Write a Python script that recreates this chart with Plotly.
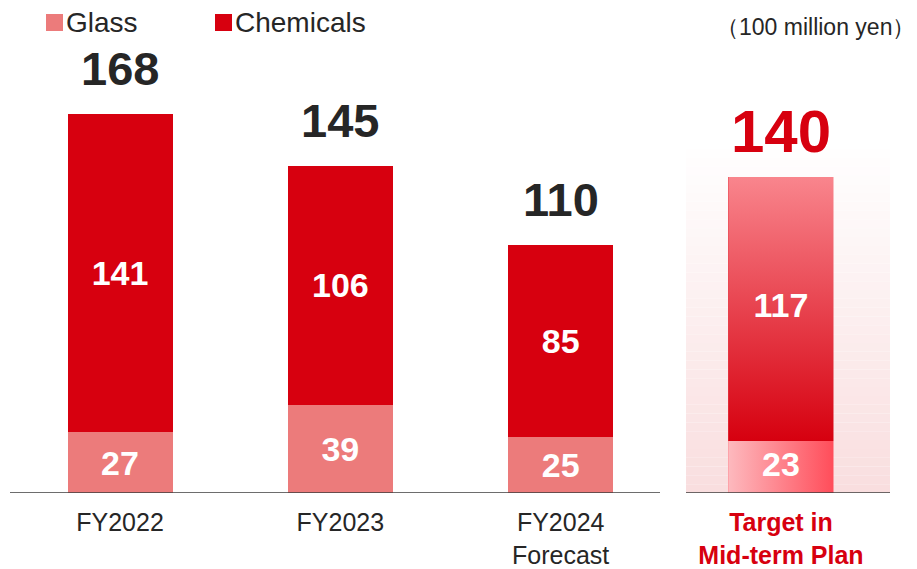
import plotly.graph_objects as go

# ---- data ----
categories = ["FY2022", "FY2023", "FY2024<br>Forecast", "Target in<br>Mid-term Plan"]
glass = [27, 39, 25, 23]
chemicals = [141, 106, 85, 117]
totals = [168, 145, 110, 140]
series_names = ["Glass", "Chemicals"]
unit_label = "（100 million yen）"

# ---- styles ----
FONT = "Liberation Sans, Arial, sans-serif"
GLASS_C = "#ec7b7b"
CHEM_C = "#d7000f"
DARK = "#262626"
OFF = 8                      # page body margin
SW, SH = 917, 569            # screen size
W, H = SW - OFF, SH - OFF    # figure size
X_PER_CAT = 220.33           # px per category step
X0_PX = 120                  # screen px of first category centre
BASE_PY = 493                # screen px of baseline
PLOT_H = BASE_PY - OFF
Y_PER_UNIT = 2.258
BAR_W = 105 / X_PER_CAT

def px_to_x(px):
    return (px - X0_PX) / X_PER_CAT

def py_to_y(py):
    return (BASE_PY - py) / Y_PER_UNIT

def ppx(px):   # screen px -> paper x
    return (px - OFF) / W

def ppy(py):   # screen px -> paper y
    return 1 - (py - OFF) / PLOT_H

xs = list(range(len(categories)))
target = len(categories) - 1

fig = go.Figure()

glass_text = [str(v) if i != target else "" for i, v in enumerate(glass)]
chem_text = [str(v) if i != target else "" for i, v in enumerate(chemicals)]
fig.add_trace(go.Bar(
    x=xs, y=glass, name=series_names[0], width=BAR_W,
    marker=dict(color=[GLASS_C] * target + ["#fe8a93"], line=dict(width=0)),
    text=glass_text, textposition="inside", insidetextanchor="middle",
    textfont=dict(family=FONT, size=34, color="white", weight="bold"),
    showlegend=False,
))
fig.add_trace(go.Bar(
    x=xs, y=chemicals, name=series_names[1], width=BAR_W,
    marker=dict(color=[CHEM_C] * target + ["#e8404a"], line=dict(width=0)),
    text=chem_text, textposition="inside", insidetextanchor="middle",
    textfont=dict(family=FONT, size=34, color="white", weight="bold"),
    showlegend=False,
))

# gradient overlay for target bar
tx0, tx1 = xs[target] - BAR_W / 2, xs[target] + BAR_W / 2
g_top = glass[target]
c_top = glass[target] + chemicals[target]
fig.add_trace(go.Scatter(
    x=[tx0, tx1, tx1, tx0, tx0], y=[0, 0, g_top, g_top, 0],
    mode="none", fill="toself", hoverinfo="skip", showlegend=False,
    fillgradient=dict(type="horizontal", start=tx0, stop=tx1,
                      colorscale=[[0, "#fdb9be"], [1, "#ff4d5a"]]),
))
fig.add_trace(go.Scatter(
    x=[tx0, tx1, tx1, tx0, tx0], y=[g_top, g_top, c_top, c_top, g_top],
    mode="none", fill="toself", hoverinfo="skip", showlegend=False,
    fillgradient=dict(type="vertical", start=c_top, stop=g_top,
                      colorscale=[[0, "#f9858d"], [1, "#d6000f"]]),
))
fig.add_trace(go.Scatter(
    x=[xs[target], xs[target]], y=[g_top / 2, g_top + chemicals[target] / 2],
    mode="text", text=[str(glass[target]), str(chemicals[target])],
    textposition="middle center",
    textfont=dict(family=FONT, size=34, color="white", weight="bold"),
    hoverinfo="skip", showlegend=False,
))

# totals above bars
for i, t in enumerate(totals):
    is_t = i == target
    fig.add_annotation(
        x=xs[i], y=t, xref="x", yref="y", text=f"<b>{t}</b>",
        showarrow=False, yanchor="middle", yshift=45,
        font=dict(family=FONT, size=60 if is_t else 47,
                  color=CHEM_C if is_t else DARK),
    )

shapes = []
# target panel background gradient (stripes)
N = 40
top_y = py_to_y(140)
bot = (249, 222, 223)
for k in range(N):
    f = k / (N - 1)
    c = tuple(round(bot[j] + (255 - bot[j]) * f) for j in range(3))
    shapes.append(dict(
        type="rect", xref="x", yref="y", layer="below",
        x0=px_to_x(686), x1=px_to_x(890),
        y0=top_y * k / N, y1=top_y * (k + 1) / N,
        fillcolor=f"rgb{c}", line=dict(width=0),
    ))
# baselines
shapes.append(dict(type="line", xref="x", yref="y", layer="above",
                   x0=px_to_x(10), x1=px_to_x(660), y0=0, y1=0,
                   line=dict(color="#3c3c3c", width=1.5)))
shapes.append(dict(type="line", xref="x", yref="y", layer="above",
                   x0=px_to_x(686), x1=px_to_x(890), y0=0, y1=0,
                   line=dict(color="#3c3c3c", width=1.5)))
# legend
legend_items = [(46, series_names[0], GLASS_C), (215, series_names[1], CHEM_C)]
for lx, name, col in legend_items:
    shapes.append(dict(type="rect", xref="paper", yref="paper",
                       x0=ppx(lx), x1=ppx(lx + 17),
                       y0=ppy(31), y1=ppy(14),
                       fillcolor=col, line=dict(width=0)))
    fig.add_annotation(x=ppx(lx + 18), y=ppy(22.5), xref="paper", yref="paper",
                       text=name, showarrow=False, xanchor="left", yanchor="middle",
                       font=dict(family=FONT, size=28, color=DARK))

fig.add_annotation(x=ppx(917), y=ppy(27), xref="paper", yref="paper",
                   text=unit_label, showarrow=False, xanchor="right", yanchor="middle",
                   font=dict(family=FONT, size=23, color=DARK))

ticktext = [c for c in categories[:target]] + \
    [f"<b><span style='color:{CHEM_C}'>{categories[target]}</span></b>"]

fig.update_layout(
    width=W, height=H,
    margin=dict(l=0, r=0, t=0, b=H - PLOT_H, autoexpand=False),
    paper_bgcolor="white", plot_bgcolor="rgba(0,0,0,0)",
    barmode="stack", showlegend=False,
    shapes=shapes,
    font=dict(family=FONT, color=DARK),
    xaxis=dict(range=[px_to_x(OFF), px_to_x(SW)], tickvals=xs, ticktext=ticktext,
               showgrid=False, zeroline=False, showline=False, ticks="",
               tickfont=dict(family=FONT, size=25, color=DARK),
               ticklabelstandoff=12, automargin=False, fixedrange=True),
    yaxis=dict(range=[0, PLOT_H / Y_PER_UNIT], visible=False, fixedrange=True,
               automargin=False),
)

fig.write_html("out.html")
